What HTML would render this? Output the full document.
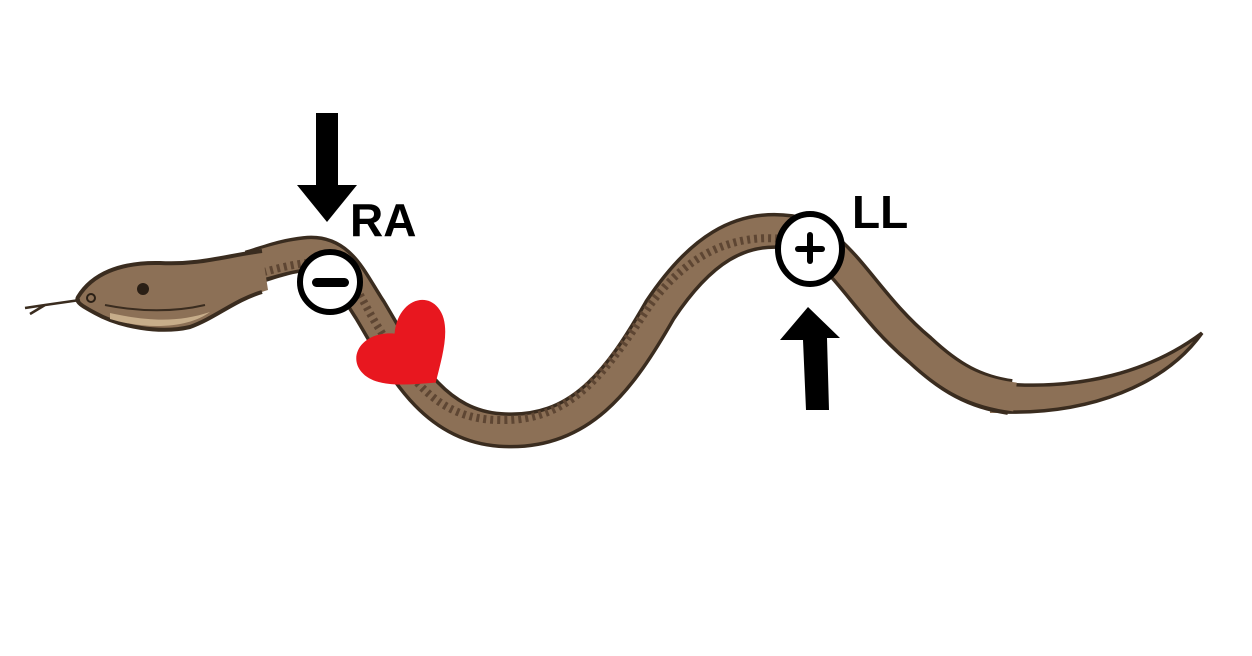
<!DOCTYPE html>
<html><head><style>
html,body{margin:0;padding:0;background:#fff;width:1252px;height:656px;overflow:hidden}
svg{display:block}
text{font-family:"Liberation Sans",sans-serif;font-weight:bold}
</style></head><body>
<svg width="1252" height="656" viewBox="0 0 1252 656">
<path d="M990,382 C1080,390 1150,372 1202,333 C1165,385 1090,414 990,413 Z" fill="#8c7056"/>
<path d="M1005,384 C1080,390 1150,372 1202,333 C1165,385 1090,414 1005,412" fill="none" stroke="#3a2c1f" stroke-width="3.5"/>
<g fill="none" stroke-linecap="butt" stroke-linejoin="round">
<path d="M250,268 C270,262 285,256 305,254 C340,250 350,280 370,310 C400,360 430,425 500,430 C580,436 620,380 660,310 C700,250 740,225 790,232 C840,240 860,300 920,350 C950,378 975,392 1010,397" stroke="#3a2c1f" stroke-width="36"/>
<path d="M245,268 C270,262 285,256 305,254 C340,250 350,280 370,310 C400,360 430,425 500,430 C580,436 620,380 660,310 C700,250 740,225 790,232 C840,240 860,300 920,350 C950,378 975,392 1015,397" stroke="#8c7056" stroke-width="29"/>
<path d="M250,276 C270,270 300,262 320,262 C350,262 360,300 380,330 C410,380 440,420 500,420 C575,422 610,365 650,305 C690,250 740,232 790,240" stroke="#5e4633" stroke-width="8" stroke-dasharray="3 4"/>
</g>
<path d="M78,297 C92,274 120,262 160,263 C200,265 225,256 262,251 L268,290 C235,300 215,318 190,327 C160,334 120,327 95,313 C82,306 75,302 78,297 Z" fill="#8c7056"/>
<path d="M262,251 C225,256 200,265 160,263 C120,262 92,274 78,297 C75,302 82,306 95,313 C120,327 160,334 190,327 C215,318 235,300 262,292" fill="none" stroke="#3a2c1f" stroke-width="4"/>
<path d="M110,313 C150,322 180,322 210,312 C190,327 150,331 110,319 Z" fill="#c7ad8a"/>
<path d="M105,305 C140,312 175,312 205,305" stroke="#3a2c1f" stroke-width="2" fill="none"/>
<circle cx="143" cy="289" r="6" fill="#2a1f15"/>
<circle cx="91" cy="298" r="4" fill="none" stroke="#2a1f15" stroke-width="2"/>
<path d="M80,300 L45,305 L25,308 M45,305 L30,314" stroke="#3a2c1f" stroke-width="2.5" fill="none"/>
<rect x="316" y="113" width="22" height="75" fill="#000"/>
<polygon points="297,185 357,185 327,222" fill="#000"/>
<text x="350" y="236" font-size="46">RA</text>
<circle cx="330" cy="282" r="30" fill="#fff" stroke="#000" stroke-width="6"/>
<rect x="312" y="278" width="37" height="9" rx="4.5" fill="#000"/>
<g transform="translate(410,352) rotate(-40)">
<path d="M0,40 C-22,24 -50,6 -50,-16 C-50,-38 -22,-46 0,-24 C22,-46 50,-38 50,-16 C50,6 22,24 0,40 Z" fill="#e8171f"/>
</g>
<ellipse cx="810" cy="249" rx="32" ry="35" fill="#fff" stroke="#000" stroke-width="6"/>
<rect x="795" y="246" width="30" height="6" rx="3" fill="#000"/>
<rect x="807" y="232" width="6" height="32" rx="3" fill="#000"/>
<text x="852" y="228" font-size="46">LL</text>
<polygon points="808,307 840,338 827,338 829,410 806,410 803,340 780,340" fill="#000"/>
</svg>
</body></html>
